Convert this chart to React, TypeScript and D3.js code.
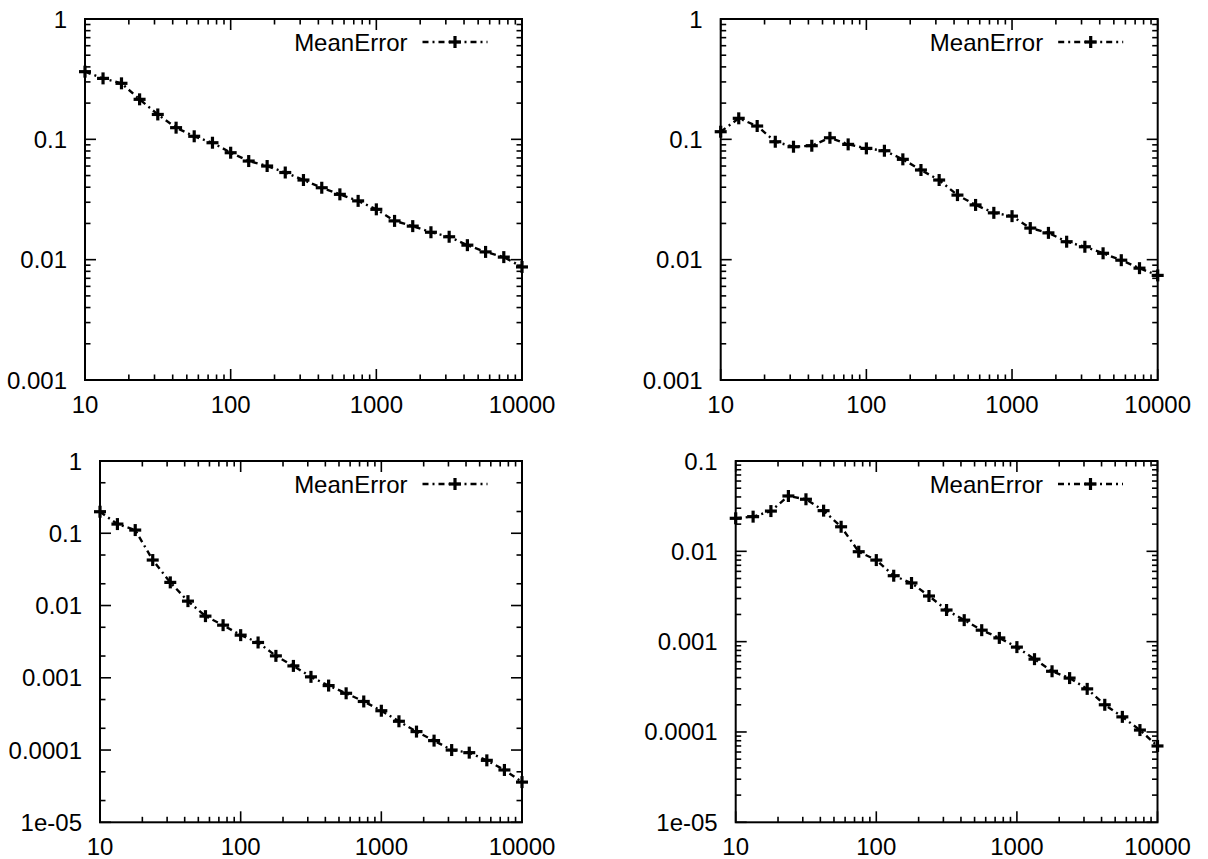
import React from "react";
import * as d3 from "d3";

const xs = [10, 13.3, 17.8, 23.7, 31.6, 42.2, 56.2, 75, 100, 133, 178, 237, 316, 422, 562, 750, 1000, 1334, 1778, 2371, 3162, 4217, 5623, 7499, 10000];

const err1 = [0.365, 0.321, 0.292, 0.215, 0.161, 0.125, 0.106, 0.0937, 0.0774, 0.066, 0.06, 0.053, 0.0459, 0.0396, 0.0349, 0.0308, 0.0262, 0.021, 0.019, 0.0169, 0.0155, 0.0132, 0.0116, 0.0105, 0.0087];
const err2 = [0.1157, 0.1495, 0.129, 0.0955, 0.0868, 0.0885, 0.103, 0.0908, 0.0841, 0.0804, 0.0682, 0.0556, 0.0459, 0.0344, 0.0285, 0.0245, 0.023, 0.0183, 0.0167, 0.0141, 0.0128, 0.0113, 0.0099, 0.0085, 0.0074];
const err3 = [0.1986, 0.134, 0.1107, 0.0426, 0.0209, 0.0115, 0.00713, 0.00535, 0.00389, 0.00308, 0.00201, 0.00146, 0.00103, 0.00078, 0.00061, 0.00047, 0.00035, 0.00025, 0.00018, 0.000135, 0.0001, 0.000092, 0.000072, 0.000053, 0.000036];
const err4 = [0.0232, 0.0242, 0.0279, 0.041, 0.0377, 0.0282, 0.0187, 0.0099, 0.008, 0.00537, 0.00446, 0.0032, 0.00224, 0.00173, 0.00134, 0.0011, 0.00087, 0.00064, 0.00047, 0.000395, 0.0003, 0.0002, 0.000147, 0.000105, 0.00007];

const xTickLabels = ["10", "100", "1000", "10000"];
const yTicks1 = ["1", "0.1", "0.01", "0.001"];
const yTicks3 = ["1", "0.1", "0.01", "0.001", "0.0001", "1e-05"];
const yTicks4 = ["0.1", "0.01", "0.001", "0.0001", "1e-05"];
const seriesName = "MeanError";

const FONT = "'Liberation Sans', Arial, Helvetica, sans-serif";
const FS = 24;

type PanelSpec = {
  left: number; top: number; right: number; bottom: number;
  yDomain: [number, number]; yLabels: string[]; data: number[]; yMinor: number[];
};

const panels: PanelSpec[] = [
  { left: 85, top: 19, right: 522, bottom: 380, yDomain: [0.001, 1], yLabels: yTicks1, data: err1, yMinor: [2, 3, 4, 5, 6, 7, 8, 9] },
  { left: 720.7, top: 19, right: 1157.7, bottom: 380, yDomain: [0.001, 1], yLabels: yTicks1, data: err2, yMinor: [2, 3, 4, 5, 6, 7, 8, 9] },
  { left: 100, top: 461, right: 522, bottom: 822.3, yDomain: [1e-5, 1], yLabels: yTicks3, data: err3, yMinor: [2, 5] },
  { left: 735.7, top: 461, right: 1157.5, bottom: 822.3, yDomain: [1e-5, 0.1], yLabels: yTicks4, data: err4, yMinor: [2, 3, 4, 5, 6, 7, 8, 9] },
];

const MAJ = 11;
const MIN = 5.5;

function Cross({ x, y }: { x: number; y: number }) {
  const s = 6;
  return (
    <g stroke="#000" strokeWidth={3.2}>
      <line x1={x - s} x2={x + s} y1={y} y2={y} />
      <line x1={x} x2={x} y1={y - s} y2={y + s} />
    </g>
  );
}

function Panel({ p }: { p: PanelSpec }) {
  const x = d3.scaleLog().domain([10, 10000]).range([p.left, p.right]);
  const y = d3.scaleLog().domain(p.yDomain).range([p.bottom, p.top]);
  const line = d3.line<number>().x((_, i) => x(xs[i])).y((d) => y(d));

  const xMajors = xTickLabels.map((t) => +t);
  const xMinors: number[] = [];
  for (let dec = 10; dec < 10000; dec *= 10) for (let m = 2; m <= 9; m++) xMinors.push(dec * m);

  const yMajors = p.yLabels.map((t) => +t);
  const yMinors: number[] = [];
  const lo = Math.round(Math.log10(p.yDomain[0]));
  const hi = Math.round(Math.log10(p.yDomain[1]));
  for (let e = lo; e < hi; e++) for (const m of p.yMinor) yMinors.push(m * Math.pow(10, e));

  const legX2 = p.right - 34.5;
  const legX1 = legX2 - 65;
  const legY = p.top + 23;

  return (
    <g>
      <path d={line(p.data) || ""} fill="none" stroke="#000" strokeWidth={2.4} strokeDasharray="6,4,2,4" />
      {p.data.map((d, i) => (
        <Cross key={i} x={x(xs[i])} y={y(d)} />
      ))}
      <g stroke="#000" strokeWidth={1.6}>
        {xMajors.map((v, i) => (
          <g key={"xM" + i}>
            <line x1={x(v)} x2={x(v)} y1={p.bottom} y2={p.bottom - MAJ} />
            <line x1={x(v)} x2={x(v)} y1={p.top} y2={p.top + MAJ} />
          </g>
        ))}
        {xMinors.map((v, i) => (
          <g key={"xm" + i}>
            <line x1={x(v)} x2={x(v)} y1={p.bottom} y2={p.bottom - MIN} />
            <line x1={x(v)} x2={x(v)} y1={p.top} y2={p.top + MIN} />
          </g>
        ))}
        {yMajors.map((v, i) => (
          <g key={"yM" + i}>
            <line x1={p.left} x2={p.left + MAJ} y1={y(v)} y2={y(v)} />
            <line x1={p.right} x2={p.right - MAJ} y1={y(v)} y2={y(v)} />
          </g>
        ))}
        {yMinors.map((v, i) => (
          <g key={"ym" + i}>
            <line x1={p.left} x2={p.left + MIN} y1={y(v)} y2={y(v)} />
            <line x1={p.right} x2={p.right - MIN} y1={y(v)} y2={y(v)} />
          </g>
        ))}
      </g>
      <rect x={p.left} y={p.top} width={p.right - p.left} height={p.bottom - p.top} fill="none" stroke="#000" strokeWidth={2} />
      <g fontFamily={FONT} fontSize={FS} fill="#000">
        {xTickLabels.map((t, i) => (
          <text key={"xl" + i} x={x(xMajors[i])} y={p.bottom + 33} textAnchor="middle">{t}</text>
        ))}
        {p.yLabels.map((t, i) => (
          <text key={"yl" + i} x={p.left - 18} y={y(yMajors[i]) + 8.5} textAnchor="end">{t}</text>
        ))}
        <text x={legX1 - 15} y={legY + 8.5} textAnchor="end">{seriesName}</text>
      </g>
      <line x1={legX1} x2={legX2} y1={legY} y2={legY} stroke="#000" strokeWidth={2.4} strokeDasharray="6,4,2,4" />
      <Cross x={(legX1 + legX2) / 2} y={legY} />
    </g>
  );
}

export default function App() {
  return (
    <svg width={1208} height={859} style={{ position: "absolute", left: 0, top: 0, background: "#fff" }}>
      <rect width={1208} height={859} fill="#fff" />
      {panels.map((p, i) => (
        <Panel key={i} p={p} />
      ))}
    </svg>
  );
}
